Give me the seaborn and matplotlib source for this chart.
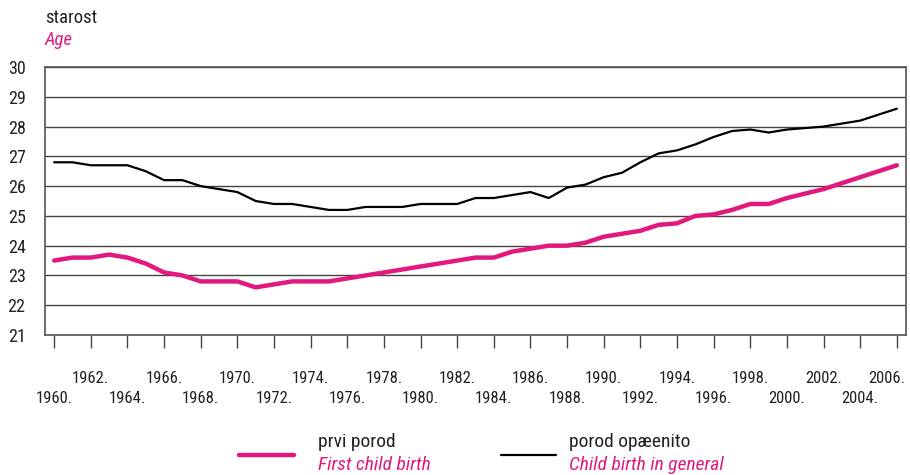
import numpy as np
import pandas as pd
import matplotlib
matplotlib.use("Agg")
import matplotlib.pyplot as plt
import matplotlib.transforms as mtransforms
import seaborn as sns
from matplotlib.lines import Line2D
from matplotlib import font_manager

# podaci: prosjecna starost majke
years = list(range(1960, 2007))
prvi_porod = [23.5, 23.6, 23.6, 23.7, 23.6, 23.4, 23.1, 23.0, 22.8, 22.8,
              22.8, 22.6, 22.7, 22.8, 22.8, 22.8, 22.9, 23.0, 23.1, 23.2,
              23.3, 23.4, 23.5, 23.6, 23.6, 23.8, 23.9, 24.0, 24.0, 24.1,
              24.3, 24.4, 24.5, 24.7, 24.75, 25.0, 25.05, 25.2, 25.4, 25.4,
              25.6, 25.75, 25.9, 26.1, 26.3, 26.5, 26.7]
porod_opcenito = [26.8, 26.8, 26.7, 26.7, 26.7, 26.5, 26.2, 26.2, 26.0, 25.9,
                  25.8, 25.5, 25.4, 25.4, 25.3, 25.2, 25.2, 25.3, 25.3, 25.3,
                  25.4, 25.4, 25.4, 25.6, 25.6, 25.7, 25.8, 25.6, 25.95, 26.05,
                  26.3, 26.45, 26.8, 27.1, 27.2, 27.4, 27.65, 27.85, 27.9, 27.8,
                  27.9, 27.95, 28.0, 28.1, 28.2, 28.4, 28.6]
top_row_years = list(range(1962, 2007, 4))
bottom_row_years = list(range(1960, 2007, 4))
y_ticks = list(range(21, 31))

pink = "#E2187F"

df = pd.DataFrame({"godina": years, "prvi": prvi_porod, "opcenito": porod_opcenito})

sns.set_style("white")
# uski font ako postoji
installed = {f.name for f in font_manager.fontManager.ttflist}
narrow = [n for n in ["Liberation Sans Narrow", "Arial Narrow", "Roboto Condensed",
                      "DejaVu Sans Condensed"] if n in installed]
plt.rcParams['font.family'] = narrow + ['DejaVu Sans']
plt.rcParams['font.stretch'] = 'condensed'

fig = plt.figure(figsize=(9.1, 4.75), dpi=100)
ax = fig.add_axes([45 / 910, 1 - 335 / 475, 861 / 910, 268 / 475])

sns.lineplot(data=df, x="godina", y="opcenito", color="black", lw=1.6, ax=ax)
sns.lineplot(data=df, x="godina", y="prvi", color=pink, lw=3.2, ax=ax)

ax.set_xlim(1959.5, 2006.5)
ax.set_ylim(21, 30)
ax.set_yticks(y_ticks)
ax.set_yticklabels([str(v) for v in y_ticks], fontsize=13, color="#222222")
ax.grid(axis="y", color="#444444", lw=1.0)
ax.set_axisbelow(True)
ax.tick_params(axis="y", length=0, pad=14)

ax.set_xticks(top_row_years)
ax.set_xticklabels([f"{y}." for y in top_row_years], fontsize=12, color="#222222")
ax.set_xticks(bottom_row_years, minor=True)
ax.set_xticklabels([f"{y}." for y in bottom_row_years], minor=True, fontsize=12,
                   color="#222222")
ax.tick_params(axis="x", which="both", direction="out", length=9, width=1.0,
               color="#444444", bottom=True)
ax.tick_params(axis="x", which="major", pad=17)
ax.tick_params(axis="x", which="minor", pad=31)
# zadnja oznaka malo ulijevo da stane
last = ax.get_xticklabels()[-1]
last.set_transform(last.get_transform() +
                   mtransforms.ScaledTranslation(-7 / 72, 0, fig.dpi_scale_trans))
ax.set_xlabel("")
ax.set_ylabel("")
for s in ax.spines.values():
    s.set_color("#555555")
    s.set_linewidth(1.2)

fig.text(45 / 910, 1 - 18 / 475, "starost", fontsize=13.5, color="#222222", va="center")
fig.text(45 / 910, 1 - 40 / 475, "Age", fontsize=13.5, color=pink, style="italic", va="center")

# legenda
fig.add_artist(Line2D([239 / 910, 294 / 910], [1 - 455 / 475] * 2, color=pink, lw=3.2))
fig.add_artist(Line2D([501 / 910, 556 / 910], [1 - 455 / 475] * 2, color="black", lw=1.6))
fig.text(318 / 910, 1 - 442 / 475, "prvi porod", fontsize=14, color="#222222", va="center")
fig.text(318 / 910, 1 - 465 / 475, "First child birth", fontsize=14, color=pink,
         style="italic", va="center")
fig.text(569 / 910, 1 - 442 / 475, "porod opæenito", fontsize=14, color="#222222", va="center")
fig.text(569 / 910, 1 - 465 / 475, "Child birth in general", fontsize=14, color=pink,
         style="italic", va="center")

fig.savefig("out.png", dpi=100)
